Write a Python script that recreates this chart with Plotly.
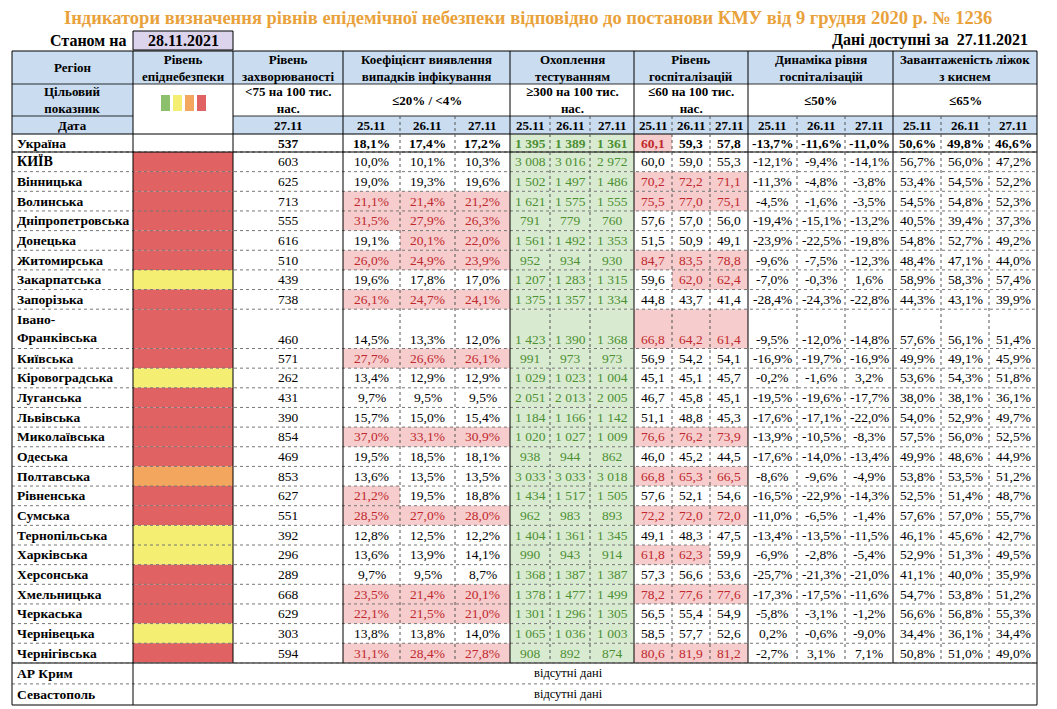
import plotly.graph_objects as go

regions = ["Україна","КИЇВ","Вінницька","Волинська","Дніпропетровська","Донецька","Житомирська",
 "Закарпатська","Запорізька","Івано-<br>Франківська","Київська","Кіровоградська","Луганська","Львівська",
 "Миколаївська","Одеська","Полтавська","Рівненська","Сумська","Тернопільська","Харківська","Херсонська",
 "Хмельницька","Черкаська","Чернівецька","Чернігівська"]
levels = ["", "r","r","r","r","r","r","y","r","r","r","y","r","r","r","r","o","r","r","y","y","r","r","r","y","r"]
incidence = [537,603,625,713,555,616,510,439,738,460,571,262,431,390,854,469,853,627,551,392,296,289,668,629,303,594]
coef25 = [18.1,10.0,19.0,21.1,31.5,19.1,26.0,19.6,26.1,14.5,27.7,13.4,9.7,15.7,37.0,19.5,13.6,21.2,28.5,12.8,13.6,9.7,23.5,22.1,13.8,31.1]
coef26 = [17.4,10.1,19.3,21.4,27.9,20.1,24.9,17.8,24.7,13.3,26.6,12.9,9.5,15.0,33.1,18.5,13.5,19.5,27.0,12.5,13.9,9.5,21.4,21.5,13.8,28.4]
coef27 = [17.2,10.3,19.6,21.2,26.3,22.0,23.9,17.0,24.1,12.0,26.1,12.9,9.5,15.4,30.9,18.1,13.5,18.8,28.0,12.2,14.1,8.7,20.1,21.0,14.0,27.8]
test25 = [1395,3008,1502,1621,791,1561,952,1207,1375,1423,991,1029,2051,1184,1020,938,3033,1434,962,1404,990,1368,1378,1301,1065,908]
test26 = [1389,3016,1497,1575,779,1492,934,1283,1357,1390,973,1023,2013,1166,1027,944,3033,1517,983,1361,943,1387,1477,1296,1036,892]
test27 = [1361,2972,1486,1555,760,1353,930,1315,1334,1368,973,1004,2005,1142,1009,862,3018,1505,893,1345,914,1387,1499,1305,1003,874]
hosp25 = [60.1,60.0,70.2,75.5,57.6,51.5,84.7,59.6,44.8,66.8,56.9,45.1,46.7,51.1,76.6,46.0,66.8,57.6,72.2,49.1,61.8,57.3,78.2,56.5,58.5,80.6]
hosp26 = [59.3,59.0,72.2,77.0,57.0,50.9,83.5,62.0,43.7,64.2,54.2,45.1,45.8,48.8,76.2,45.2,65.3,52.1,72.0,48.3,62.3,56.6,77.6,55.4,57.7,81.9]
hosp27 = [57.8,55.3,71.1,75.1,56.0,49.1,78.8,62.4,41.4,61.4,54.1,45.7,45.1,45.3,73.9,44.5,66.5,54.6,72.0,47.5,59.9,53.6,77.6,54.9,52.6,81.2]
dyn25 = [-13.7,-12.1,-11.3,-4.5,-19.4,-23.9,-9.6,-7.0,-28.4,-9.5,-16.9,-0.2,-19.5,-17.6,-13.9,-17.6,-8.6,-16.5,-11.0,-13.4,-6.9,-25.7,-17.3,-5.8,0.2,-2.7]
dyn26 = [-11.6,-9.4,-4.8,-1.6,-15.1,-22.5,-7.5,-0.3,-24.3,-12.0,-19.7,-1.6,-19.6,-17.1,-10.5,-14.0,-9.6,-22.9,-6.5,-13.5,-2.8,-21.3,-17.5,-3.1,-0.6,3.1]
dyn27 = [-11.0,-14.1,-3.8,-3.5,-13.2,-19.8,-12.3,1.6,-22.8,-14.8,-16.9,3.2,-17.7,-22.0,-8.3,-13.4,-4.9,-14.3,-1.4,-11.5,-5.4,-21.0,-11.6,-1.2,-9.0,7.1]
beds25 = [50.6,56.7,53.4,54.5,40.5,54.8,48.4,58.9,44.3,57.6,49.9,53.6,38.0,54.0,57.5,49.9,53.8,52.5,57.6,46.1,52.9,41.1,54.7,56.6,34.4,50.8]
beds26 = [49.8,56.0,54.5,54.8,39.4,52.7,47.1,58.3,43.1,56.1,49.1,54.3,38.1,52.9,56.0,48.6,53.5,51.4,57.0,45.6,51.3,40.0,53.8,56.8,36.1,51.0]
beds27 = [46.6,47.2,52.2,52.3,37.3,49.2,44.0,57.4,39.9,51.4,45.9,51.8,36.1,49.7,52.5,44.9,51.2,48.7,55.7,42.7,49.5,35.9,51.2,55.3,34.4,49.0]
dates = ["25.11","26.11","27.11"]

FONT = "Liberation Serif, Times New Roman, DejaVu Serif, serif"
BLUE = "#c9dcf0"; RED = "#e06262"; YEL = "#f4ef72"; ORG = "#f3a75e"; GRN = "#8dc06c"
LRED = "#f6cccc"; TRED = "#c0282d"; LGRN = "#d8ebd0"; TGRN = "#4d8f33"
lvl_col = {"r": RED, "y": YEL, "o": ORG}

X = [12,133,233,343,400,455,510,550,590,634,672,710,748,797,845,893,941,989,1037]
shapes, ann = [], []

def rect(x0,y0,x1,y1,fill,line=None,lw=0):
    shapes.append(dict(type="rect",xref="x",yref="y",x0=x0,y0=y0,x1=x1,y1=y1,fillcolor=fill,
                       line=dict(color=line or fill,width=lw),layer="below"))
def hline(x0,x1,y,dash="dot",color="#777",w=1):
    shapes.append(dict(type="line",xref="x",yref="y",x0=x0,x1=x1,y0=y,y1=y,line=dict(color=color,width=w,dash=dash)))
def vline(x,y0,y1,dash="solid",color="#000",w=1):
    shapes.append(dict(type="line",xref="x",yref="y",x0=x,x1=x,y0=y0,y1=y1,line=dict(color=color,width=w,dash=dash)))
def txt(x,y,s,size=13,bold=False,color="#000",xa="center",ya="middle",align="center"):
    if bold: s = "<b>"+s+"</b>"
    ann.append(dict(x=x,y=y,xref="x",yref="y",text=s,showarrow=False,xanchor=xa,yanchor=ya,align=align,
                    font=dict(family=FONT,size=size,color=color)))

def pct(v): return (f"{v:.1f}%").replace(".",",")
def dec(v): return (f"{v:.1f}").replace(".",",")
def thou(v): return f"{v:,}".replace(","," ")

txt(528,18,"Індикатори визначення рівнів епідемічної небезпеки відповідно до постанови КМУ від 9 грудня 2020 р. № 1236",18.5,True,"#e9a23b")
txt(128,40,"Станом на",16,True,xa="right")
rect(133,31,233,50,"#dcd3ec","#000",1)
txt(183,40.5,"28.11.2021",16,True)
txt(1030,40,"Дані доступні за  27.11.2021",16,True,xa="right")

H0,H1,H2,H3 = 51,84,116,134
rect(X[0],H0,X[-1],H1,BLUE)
rect(X[0],H1,X[1],H3,BLUE)
rect(X[2],H2,X[-1],H3,BLUE)
heads = ["Регіон","Рівень<br>епіднебезпеки","Рівень<br>захворюваності","Коефіцієнт виявлення<br>випадків інфікування",
         "Охоплення<br>тестуванням","Рівень<br>госпіталізацій","Динаміка рівня<br>госпіталізацій","Завантаженість ліжок<br>з киснем"]
targets = ["Цільовий<br>показник","","<75 на 100 тис.<br>нас.","≤20% / <4%","≥300 на 100 тис.<br>нас.",
           "≤60 на 100 тис.<br>нас.","≤50%","≤65%"]
groups = [(X[0],X[1]),(X[1],X[2]),(X[2],X[3])] + [(X[3+3*i],X[6+3*i]) for i in range(5)]
for (a,b),h,t in zip(groups,heads,targets):
    txt((a+b)/2,(H0+H1)/2,h,13,True)
    if t: txt((a+b)/2,(H1+H2)/2,t,13,True)
for i,c in enumerate([GRN,YEL,ORG,RED]):
    rect(161+i*12,95,170+i*12,111,c)
txt((X[0]+X[1])/2,(H2+H3)/2,"Дата",13,True)
txt((X[2]+X[3])/2,(H2+H3)/2,"27.11",13,True)
for g in range(5):
    for j in range(3):
        txt((X[3+3*g+j]+X[4+3*g+j])/2,(H2+H3)/2,dates[j],13,True)

heights = [1.0]*len(regions)
heights[9] = 2.0
RH = 19.65
ys = [H3]
for i,h in enumerate(heights):
    ys.append(ys[-1] + (18 if i==0 else h*RH))

for i in range(len(regions)):
    y0,y1 = ys[i],ys[i+1]
    yc = y1 - 9.5 if heights[i] > 1 else (y0+y1)/2
    b = (i == 0)
    if levels[i]: rect(X[1],y0,X[2],y1,lvl_col[levels[i]])
    txt(X[0]+3,(y0+y1)/2,regions[i],14 if i==1 else 13.5,True,xa="left",align="left")
    txt((X[2]+X[3])/2,yc,str(incidence[i]),13.5,b)
    cols = [(coef25,coef26,coef27,pct,lambda v: v>20,LRED,TRED),
            (test25,test26,test27,thou,lambda v: v>=300,LGRN,TGRN),
            (hosp25,hosp26,hosp27,dec,lambda v: v>60,LRED,TRED),
            (dyn25,dyn26,dyn27,pct,lambda v: v>50,LRED,TRED),
            (beds25,beds26,beds27,pct,lambda v: v>65,LRED,TRED)]
    for g,(a1,a2,a3,f,cond,bg,tc) in enumerate(cols):
        for j,arr in enumerate((a1,a2,a3)):
            xa_, xb_ = X[3+3*g+j], X[4+3*g+j]
            v = arr[i]; col = "#000"
            if cond(v):
                rect(xa_,y0,xb_,y1,bg); col = tc
            txt((xa_+xb_)/2,yc,f(v),13.5,b,col)
    hline(X[0],X[-1],y1)

yb = ys[-1]
for k,name in enumerate(["АР Крим","Севастополь"]):
    y0 = yb + k*21; y1 = y0+21
    txt(X[0]+3,(y0+y1)/2,name,13.5,True,xa="left")
    txt(568,(y0+y1)/2,"відсутні дані",12.5)
    if k == 0: hline(X[0],X[-1],y1)
yend = yb + 42

hline(X[0],X[-1],H0,"solid","#000",1.2)
hline(X[0],X[-1],H1,"solid","#000",0.8)
hline(X[0],X[1],H2,"solid","#000",0.8); hline(X[2],X[-1],H2,"solid","#000",0.8)
hline(X[0],X[-1],H3,"solid","#000",1.2)
hline(X[0],X[-1],ys[1],"solid","#000",1.2)
hline(X[0],X[-1],yb,"solid","#555",1.5)
hline(X[0],X[-1],yend,"solid","#555",1.5)
major = [0,1,2,3,6,9,12,15,18]
for k,xv in enumerate(X):
    if k in major:
        vline(xv,H0,yend if k in (0,1,18) else yb)
    else:
        vline(xv,H2,yb,"dot","#555",1)

fig = go.Figure()
fig.update_layout(width=1057,height=709,margin=dict(l=0,r=0,t=0,b=0),
                  paper_bgcolor="white",plot_bgcolor="white",
                  font=dict(family=FONT),
                  xaxis=dict(range=[8,1065],visible=False,fixedrange=True),
                  yaxis=dict(range=[717,8],visible=False,fixedrange=True),
                  shapes=shapes,annotations=ann,showlegend=False)
fig.write_html("out.html")
